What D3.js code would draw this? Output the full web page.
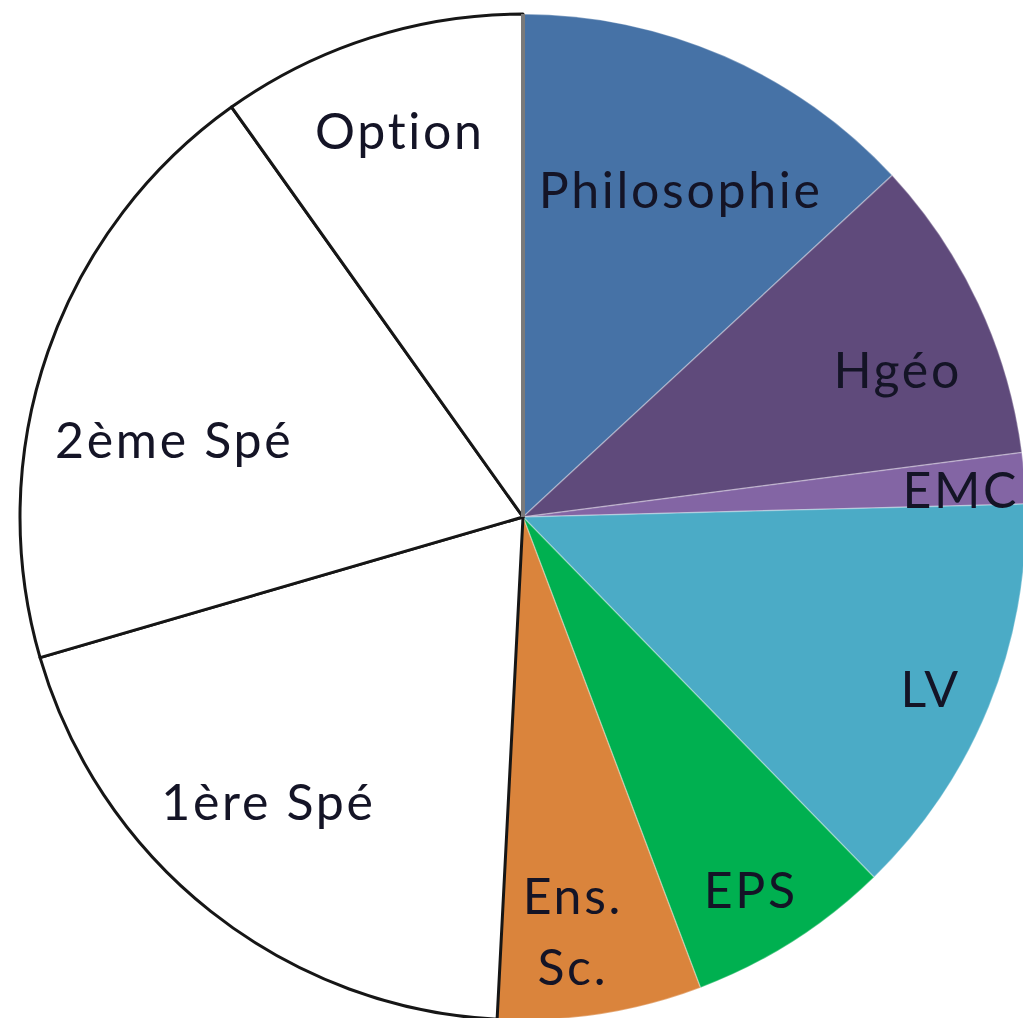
<!DOCTYPE html>
<html lang="fr">
<head>
    <meta charset="UTF-8">
    <title>Horaires terminale</title>
    <script src="https://cdn.jsdelivr.net/npm/d3@7/dist/d3.min.js"></script>
    <style>
        body {
            margin: 0;
            background: #fff;
        }

        svg {
            display: block;
        }

        .label {
            font-family: Lato, "Open Sans", sans-serif;
            font-size: 50px;
            letter-spacing: 2.7px;
            fill: #141426;
            text-anchor: middle;
        }
    </style>
</head>
<body>
<svg></svg>
<script>

    // heures par semaine, sens horaire depuis midi
    var categories = ['Philosophie', 'Hgéo', 'EMC', 'LV', 'EPS', 'Ens. Sc.', '1ère Spé', '2ème Spé', 'Option'];
    var hours = [4, 3, 0.5, 4, 2, 2, 6, 6, 3];
    var colors = ['#4672a6', '#5f4a7b', '#8365a4', '#4babc6', '#00b050', '#da843c', '#ffffff', '#ffffff', '#ffffff'];

    // placement des étiquettes : [rayon relatif, décalage en degrés]
    var labelLayout = [[0.72, 2.2], [0.80, 3.7], [0.872, 0.9], [0.88, 0.8], [0.87, 1.1],
        [0.83, 2], [0.76, 3.4], [0.71, -6.8], [0.805, 0]];

    var width = 1023;
    var height = 1018;
    var cx = 523;
    var cy = 517;
    var radius = 503;

    var svg = d3.select('svg')
        .attr('width', width)
        .attr('height', height);

    var g = svg.append('g')
        .attr('transform', 'translate(' + cx + ',' + cy + ')');

    var pie = d3.pie().sort(null).value(function (d) { return d; });
    var arcs = pie(hours);

    var arc = d3.arc().innerRadius(0).outerRadius(radius);

    function isWhite(i) {
        return colors[i] === '#ffffff';
    }

    // colored slices first, white ones on top so their black edges stay whole
    var order = d3.range(arcs.length).sort(function (a, b) {
        return (isWhite(a) ? 1 : 0) - (isWhite(b) ? 1 : 0);
    });

    g.selectAll('path.slice')
        .data(order)
        .enter()
        .append('path')
        .attr('class', 'slice')
        .attr('d', function (i) { return arc(arcs[i]); })
        .attr('fill', function (i) { return colors[i]; })
        .attr('stroke', function (i) { return isWhite(i) ? '#161616' : 'rgba(255,255,255,0.3)'; })
        .attr('stroke-width', function (i) { return isWhite(i) ? 3 : 1.5; })
        .attr('stroke-linejoin', 'round');

    // grey edge between Option and Philosophie
    var a0 = arcs[0].startAngle;
    g.append('line')
        .attr('x1', 0)
        .attr('y1', 0)
        .attr('x2', Math.sin(a0) * radius)
        .attr('y2', -Math.cos(a0) * radius)
        .attr('stroke', '#7a7a7a')
        .attr('stroke-width', 4);

    var labels = g.selectAll('text.label')
        .data(arcs)
        .enter()
        .append('text')
        .attr('class', 'label')
        .attr('transform', function (d, i) {
            var a = (d.startAngle + d.endAngle) / 2 + labelLayout[i][1] * Math.PI / 180;
            var r = radius * labelLayout[i][0];
            return 'translate(' + (Math.sin(a) * r) + ',' + (-Math.cos(a) * r) + ')';
        });

    labels.each(function (d, i) {
        var words = categories[i] === 'Ens. Sc.' ? ['Ens.', 'Sc.'] : [categories[i]];
        var t = d3.select(this);
        words.forEach(function (w, k) {
            t.append('tspan')
                .attr('x', 0)
                .attr('y', (k - (words.length - 1) / 2) * 71)
                .attr('dy', '0.35em')
                .text(w);
        });
    });

</script>
</body>
</html>
